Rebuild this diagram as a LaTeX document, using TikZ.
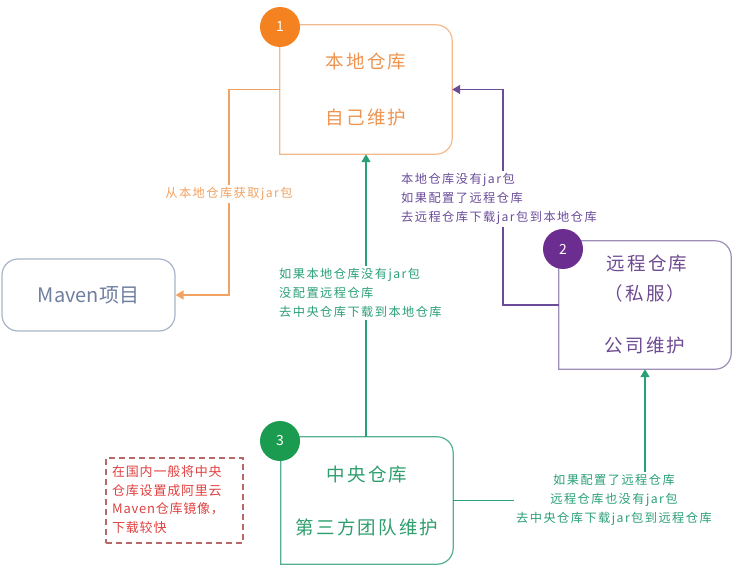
\documentclass[tikz,border=0pt]{standalone}
\usepackage{fontspec}
\setmainfont{Noto Sans CJK SC}
\newfontfamily\lblfont[LetterSpace=12]{Noto Sans CJK SC}
\newfontfamily\notefont[LetterSpace=6]{Noto Sans CJK SC}
\newfontfamily\boxfont[LetterSpace=12]{Noto Sans CJK SC}
\usetikzlibrary{arrows.meta}
\definecolor{orC}{HTML}{F58220}
\definecolor{orB}{HTML}{F2BA8C}
\definecolor{orT}{HTML}{EE9450}
\definecolor{orL}{HTML}{F2A262}
\definecolor{puC}{HTML}{6B2D90}
\definecolor{puB}{HTML}{9C8EB6}
\definecolor{puT}{HTML}{6E4A92}
\definecolor{puL}{HTML}{6A4C9A}
\definecolor{grC}{HTML}{1A9B4F}
\definecolor{grB}{HTML}{55B08E}
\definecolor{grT}{HTML}{2E9E6C}
\definecolor{grL}{HTML}{2AA076}
\definecolor{mvB}{HTML}{A8B4C8}
\definecolor{mvT}{HTML}{6F7FA0}
\definecolor{rdB}{HTML}{B86868}
\definecolor{rdT}{HTML}{E04040}
\tikzset{
  badge/.style={circle, fill=#1, minimum size=40pt, inner sep=0pt, text=white, font=\fontsize{14}{14}\selectfont},
  lab/.style={fill=white, inner sep=2pt, font=\lblfont\fontsize{12.2}{19}\selectfont},
  conn/.style={line width=1.4pt, -{Triangle[width=9pt,length=8pt]}},
  boxtxt/.style={font=\boxfont\fontsize{18.5}{18.5}\selectfont}
}
\begin{document}
\begin{tikzpicture}[x=1pt,y=-1pt]
\useasboundingbox (0,0) rectangle (745,570);
% boxes (invisible nodes for geometry)
\node[minimum width=172pt, minimum height=129pt, inner sep=0pt] (b1) at (366,89.5) {};
\node[minimum width=172pt, minimum height=128pt, inner sep=0pt] (b2) at (645,305) {};
\node[minimum width=172pt, minimum height=127pt, inner sep=0pt] (b3) at (367,500.5) {};
\node[draw=mvB, line width=1.2pt, rounded corners=16pt, minimum width=173pt, minimum height=72pt, inner sep=0pt, text=mvT, font=\fontsize{20}{20}\selectfont] (mav) at (88.5,295) {Maven项目};
% borders
\draw[orB, line width=1.2pt] (b1.south west) -- (b1.north west) {[rounded corners=16pt] -- (b1.north east) -- (b1.south east)} -- cycle;
\draw[puB, line width=1.2pt] (b2.south west) -- (b2.north west) {[rounded corners=16pt] -- (b2.north east) -- (b2.south east)} -- cycle;
\draw[grB, line width=1.2pt] (b3.south west) -- (b3.north west) {[rounded corners=16pt] -- (b3.north east) -- (b3.south east)} -- cycle;
% box texts
\node[boxtxt, text=orT] (t1a) at (366,62) {本地仓库};
\node[boxtxt, text=orT] (t1b) at (366,117) {自己维护};
\node[boxtxt, text=puT] (t2a) at (647,264) {远程仓库};
\node[boxtxt, text=puT] (t2b) at (645,293) {（私服）};
\node[boxtxt, text=puT] (t2c) at (645,345) {公司维护};
\node[boxtxt, text=grT] (t3a) at (367,475) {中央仓库};
\node[boxtxt, text=grT] (t3b) at (367,527) {第三方团队维护};
% badges
\node[badge=orC] (c1) at (280,27) {1};
\node[badge=puC] (c2) at (563,249) {2};
\node[badge=grC] (c3) at (280,441) {3};
% connectors
\draw[conn, orL] (b1.west) -- ++(-51,0) coordinate (o1) |- (mav.east);
\draw[conn, puL] (b2.west) -- ++(-56,0) coordinate (p1) |- (b1.east);
\draw[conn, grL] (b3.north -| b1.south) -- (b1.south);
\draw[conn, grL] (b3.east) -| (b2.south);
% labels
\node[lab, text=orL] (l1) at (229,194) {从本地仓库获取jar包};
\node[lab, text=puL, anchor=west, align=left] (l2) at (399,199) {本地仓库没有jar包\\如果配置了远程仓库\\去远程仓库下载jar包到本地仓库};
\node[lab, text=grL, anchor=west, align=left] (l3) at (277,293) {如果本地仓库没有jar包\\没配置远程仓库\\去中央仓库下载到本地仓库};
\node[lab, text=grL, align=center] (l4) at (614,500) {如果配置了远程仓库\\远程仓库也没有jar包\\去中央仓库下载jar包到远程仓库};
% note
\node[draw=rdB, dashed, dash pattern=on 6pt off 4pt, line width=1.2pt, minimum width=137pt, minimum height=85pt, inner sep=0pt] (note) at (174.5,500.5) {};
\node[anchor=west, align=left, text=rdT, inner sep=0pt, font=\notefont\fontsize{13}{18.5}\selectfont] (notet) at (112,499.5) {在国内一般将中央\\仓库设置成阿里云\\Maven仓库镜像，\\下载较快};
\end{tikzpicture}
\end{document}
